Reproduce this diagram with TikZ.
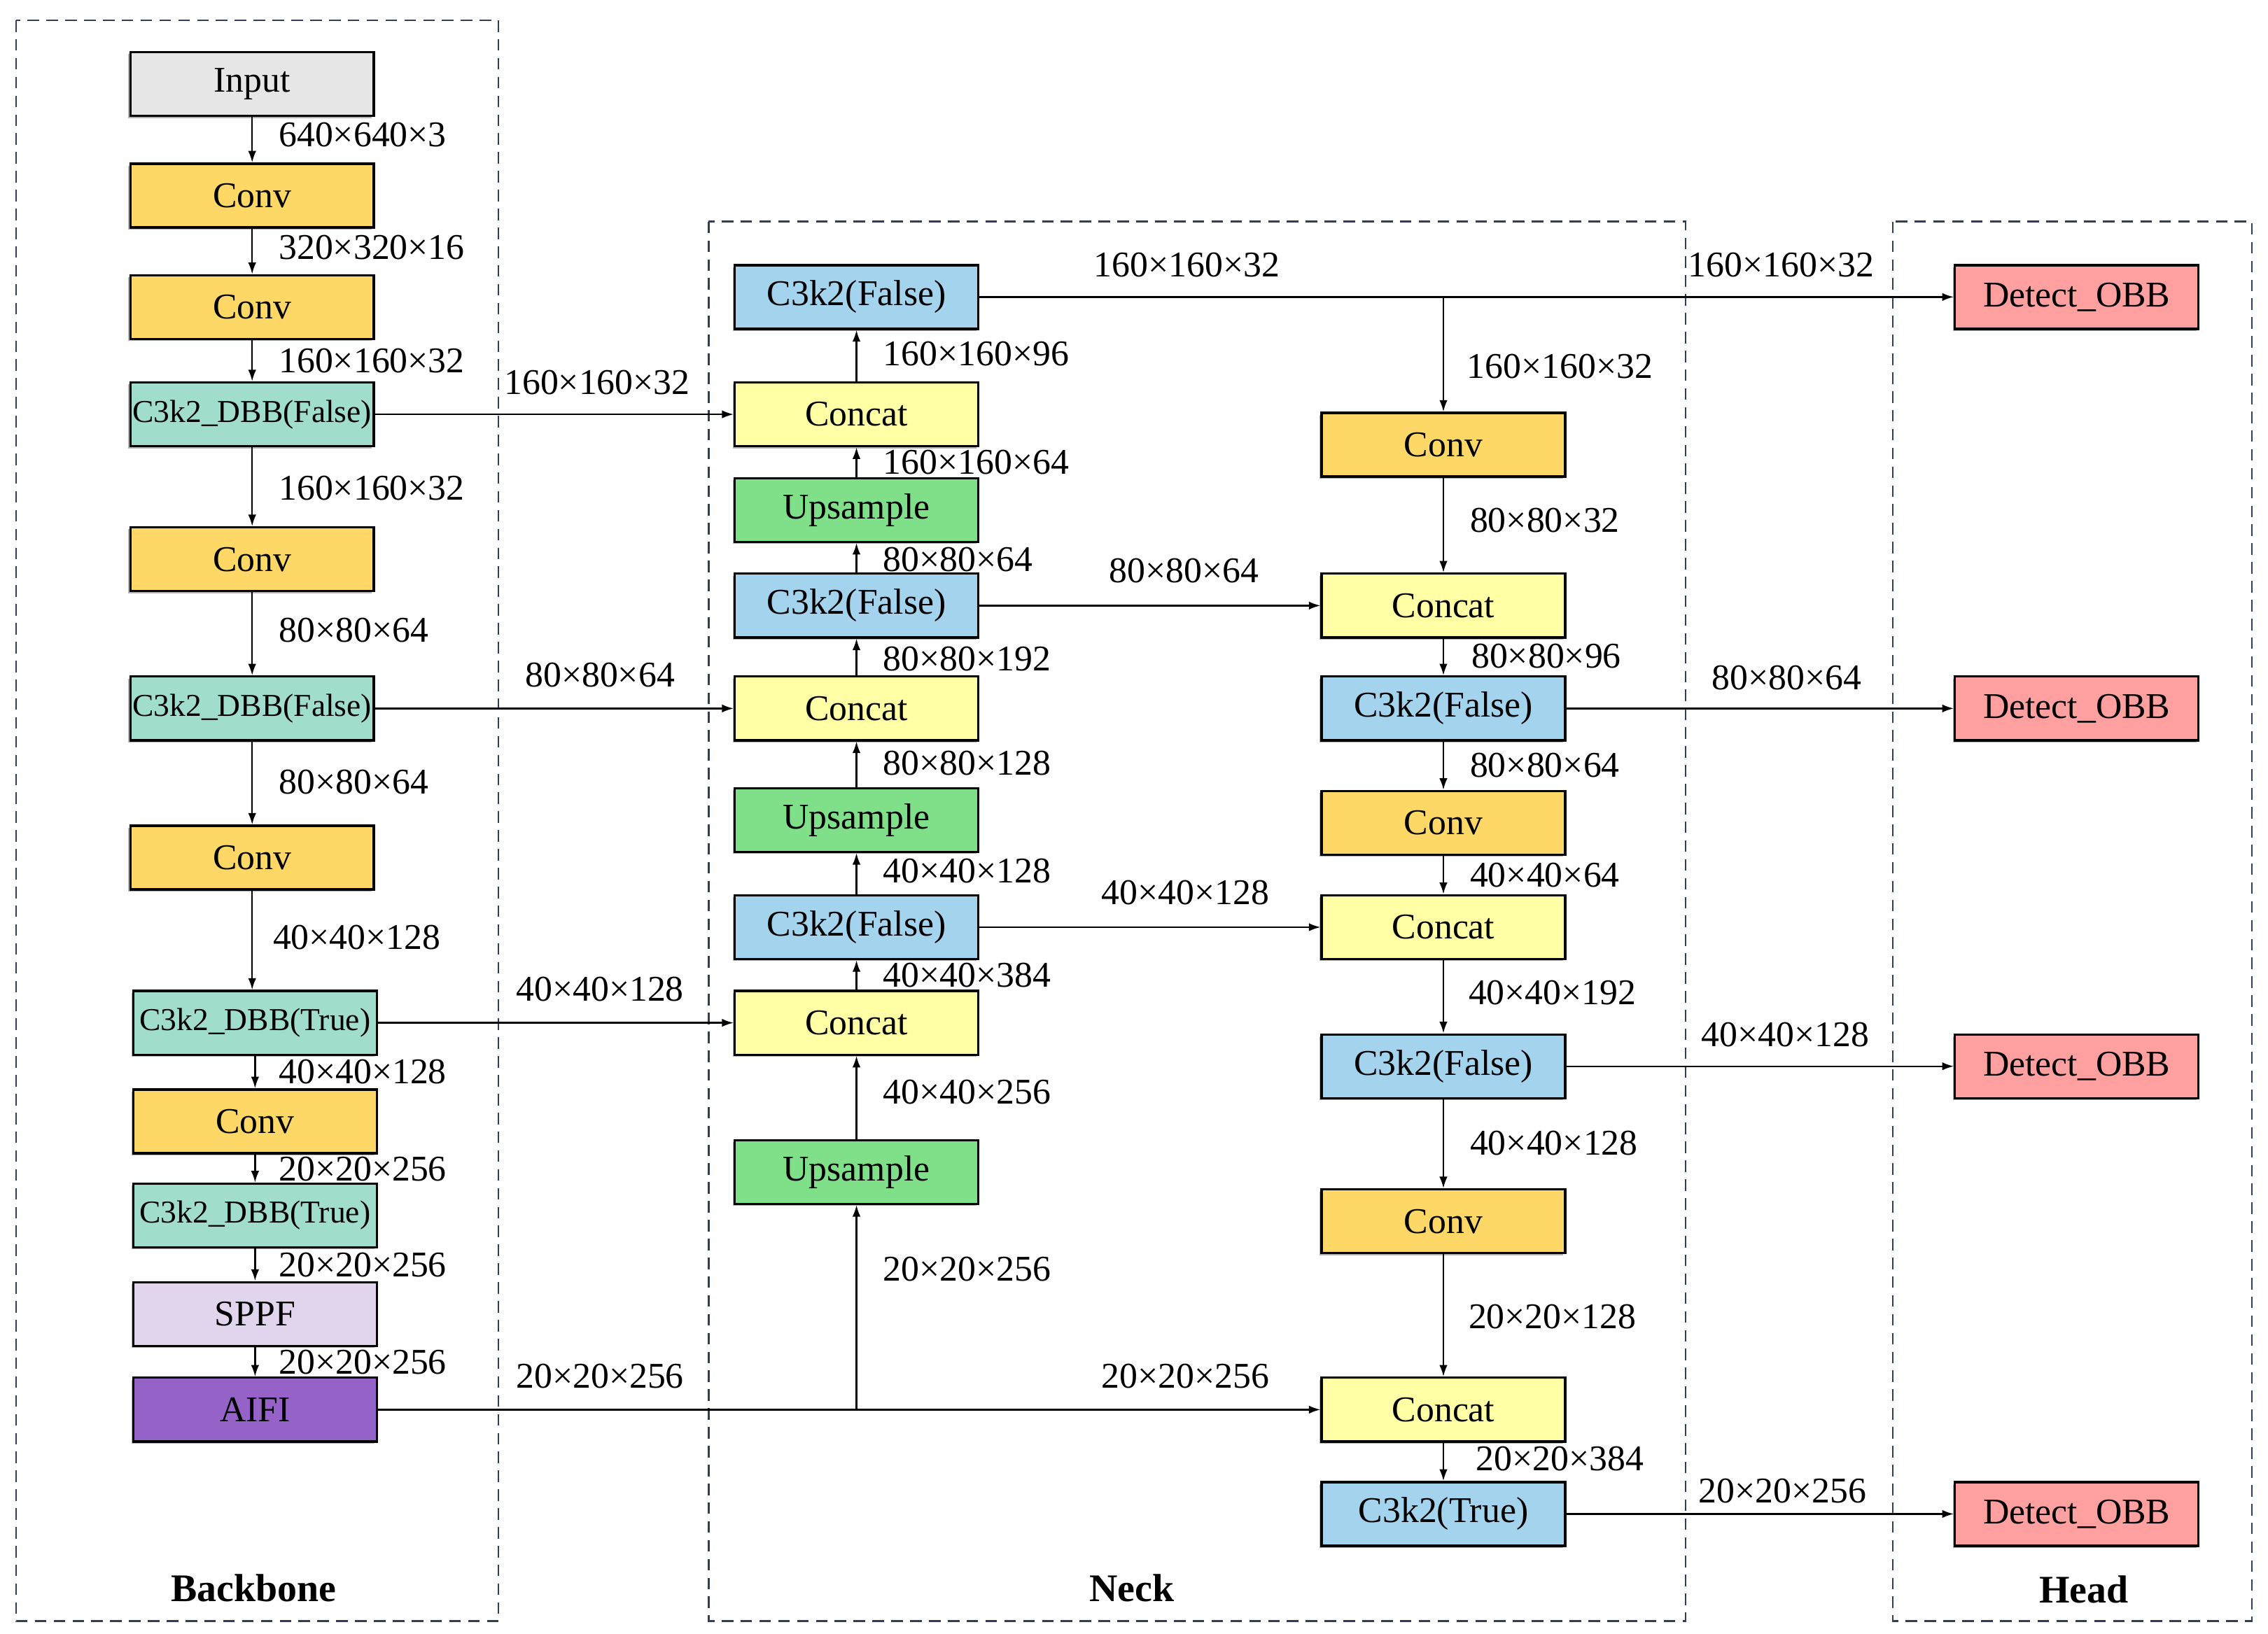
\documentclass[tikz,border=0pt]{standalone}
\usepackage{fontspec}
\setmainfont{Liberation Serif}
\usetikzlibrary{arrows.meta,shadows}
\definecolor{cgray}{HTML}{E6E6E6}
\definecolor{cconv}{HTML}{FDD866}
\definecolor{cteal}{HTML}{A0DDCD}
\definecolor{cblue}{HTML}{A4D3EE}
\definecolor{cyel}{HTML}{FFFFA6}
\definecolor{cgreen}{HTML}{80E08A}
\definecolor{cpink}{HTML}{FFA0A0}
\definecolor{clav}{HTML}{E1D5EE}
\definecolor{cpurp}{HTML}{9563C8}
\definecolor{cframe}{HTML}{2F3F5A}
\begin{document}
\begin{tikzpicture}[x=0.5pt,y=-0.5pt,
  blk/.style={draw=black, line width=0.8pt, minimum width=84pt, minimum height=22pt, inner sep=0pt,
    font=\fontsize{12.5}{14}\selectfont,
    drop shadow={shadow xshift=-0.7pt, shadow yshift=-0.7pt, fill=black!50, opacity=0.6}},
  inp/.style={blk, fill=cgray},
  convb/.style={blk, fill=cconv},
  dbb/.style={blk, fill=cteal, font=\fontsize{11}{13}\selectfont},
  c3/.style={blk, fill=cblue},
  cat/.style={blk, fill=cyel},
  ups/.style={blk, fill=cgreen},
  det/.style={blk, fill=cpink},
  sppfb/.style={blk, fill=clav},
  aifib/.style={blk, fill=cpurp},
  lab/.style={inner sep=0pt, font=\fontsize{12.5}{14}\selectfont},
  labw/.style={lab, anchor=west},
  ttl/.style={inner sep=0pt, font=\fontsize{13.5}{15}\selectfont\bfseries},
  arr/.style={line width=0.55pt, -{Latex[length=4pt,width=2.8pt]}},
  ln/.style={line width=0.55pt},
  frame/.style={draw=cframe, line width=0.6pt, dash pattern=on 4pt off 2.5pt}
]
\useasboundingbox (0,0) rectangle (1565,1127.5);

% frames
\draw[frame] (11,14) rectangle (344,1119);
\draw[frame] (489,153) rectangle (1163,1119);
\draw[frame] (1306,153) rectangle (1554,1119);
\node[ttl] (tb) at (175,1096) {Backbone};
\node[ttl] (tn) at (781,1096) {Neck};
\node[ttl] (th) at (1438,1097) {Head};

% backbone
\node[inp]   (in)  at (174,58)  {Input};
\node[convb] (bc1) at (174,135) {Conv};
\node[convb] (bc2) at (174,212) {Conv};
\node[dbb]   (bd1) at (174,286) {C3k2\_DBB(False)};
\node[convb] (bc3) at (174,386) {Conv};
\node[dbb]   (bd2) at (174,489) {C3k2\_DBB(False)};
\node[convb] (bc4) at (174,592) {Conv};
\node[dbb]   (bd3) at (176,706) {C3k2\_DBB(True)};
\node[convb] (bc5) at (176,774) {Conv};
\node[dbb]   (bd4) at (176,839) {C3k2\_DBB(True)};
\node[sppfb] (sppf) at (176,907) {SPPF};
\node[aifib] (aifi) at (176,973) {AIFI};

\foreach \a/\b in {in/bc1, bc1/bc2, bc2/bd1, bd1/bc3, bc3/bd2, bd2/bc4, bc4/bd3, bd3/bc5, bc5/bd4, bd4/sppf, sppf/aifi}
  \draw[arr] (\a.south) -- (\a.south |- \b.north);

\node[labw] (l1)  at (192,93)  {640×640×3};
\node[labw] (l2)  at (192,171) {320×320×16};
\node[labw] (l3)  at (192,249) {160×160×32};
\node[labw] (l4)  at (192,337) {160×160×32};
\node[labw] (l5)  at (192,435) {80×80×64};
\node[labw] (l6)  at (192,540) {80×80×64};
\node[labw] (l7)  at (188,647) {40×40×128};
\node[labw] (l8)  at (192,740) {40×40×128};
\node[labw] (l9)  at (192,807) {20×20×256};
\node[labw] (l10) at (192,873) {20×20×256};
\node[labw] (l11) at (192,940) {20×20×256};

% neck left column
\node[c3]  (nt)  at (591,205) {C3k2(False)};
\node[cat] (ncA) at (591,286) {Concat};
\node[ups] (nuA) at (591,352) {Upsample};
\node[c3]  (nbB) at (591,418) {C3k2(False)};
\node[cat] (ncB) at (591,489) {Concat};
\node[ups] (nuB) at (591,566) {Upsample};
\node[c3]  (nbC) at (591,640) {C3k2(False)};
\node[cat] (ncC) at (591,706) {Concat};
\node[ups] (nuC) at (591,809) {Upsample};

\foreach \a/\b in {ncA/nt, nuA/ncA, nbB/nuA, ncB/nbB, nuB/ncB, nbC/nuB, ncC/nbC, nuC/ncC}
  \draw[arr] (\a.north) -- (\a.north |- \b.south);

\node[labw] (m1) at (609,244) {160×160×96};
\node[labw] (m2) at (609,319) {160×160×64};
\node[labw] (m3) at (609,386) {80×80×64};
\node[labw] (m4) at (609,455) {80×80×192};
\node[labw] (m5) at (609,527) {80×80×128};
\node[labw] (m6) at (609,601) {40×40×128};
\node[labw] (m7) at (609,673) {40×40×384};
\node[labw] (m8) at (609,754) {40×40×256};
\node[labw] (m9) at (609,876) {20×20×256};

% neck right column
\node[convb] (rv1) at (996,307)  {Conv};
\node[cat]   (rc1) at (996,418)  {Concat};
\node[c3]    (rb1) at (996,489)  {C3k2(False)};
\node[convb] (rv2) at (996,568)  {Conv};
\node[cat]   (rc2) at (996,640)  {Concat};
\node[c3]    (rb2) at (996,736)  {C3k2(False)};
\node[convb] (rv3) at (996,843)  {Conv};
\node[cat]   (rc3) at (996,973)  {Concat};
\node[c3]    (rb3) at (996,1045) {C3k2(True)};

\coordinate (k) at (996,205);
\draw[arr] (k) -- (rv1.north);
\foreach \a/\b in {rv1/rc1, rc1/rb1, rb1/rv2, rv2/rc2, rc2/rb2, rb2/rv3, rv3/rc3, rc3/rb3}
  \draw[arr] (\a.south) -- (\a.south |- \b.north);

\node[labw] (r1) at (1012,253)  {160×160×32};
\node[labw] (r2) at (1014,359)  {80×80×32};
\node[labw] (r3) at (1015,453)  {80×80×96};
\node[labw] (r4) at (1014,528)  {80×80×64};
\node[labw] (r5) at (1014,604)  {40×40×64};
\node[labw] (r6) at (1013,685)  {40×40×192};
\node[labw] (r7) at (1014,789)  {40×40×128};
\node[labw] (r8) at (1013,909)  {20×20×128};
\node[labw] (r9) at (1018,1007) {20×20×384};

% head
\node[det] (d1) at (1433,205)  {Detect\_OBB};
\node[det] (d2) at (1433,489)  {Detect\_OBB};
\node[det] (d3) at (1433,736)  {Detect\_OBB};
\node[det] (d4) at (1433,1045) {Detect\_OBB};

% horizontal connections
\draw[arr] (bd1.east) -- (ncA.west);
\draw[arr] (bd2.east) -- (ncB.west);
\draw[arr] (bd3.east) -- (ncC.west);
\coordinate (j) at (591,973);
\draw[ln] (aifi.east) -- (j);
\draw[arr] (j) -- (rc3.west);
\draw[arr] (j) -- (nuC.south);
\draw[arr] (nt.east) -- (d1.west);
\draw[arr] (nbB.east) -- (rc1.west);
\draw[arr] (nbC.east) -- (rc2.west);
\draw[arr] (rb1.east) -- (d2.west);
\draw[arr] (rb2.east) -- (d3.west);
\draw[arr] (rb3.east) -- (d4.west);

\node[lab] (h1)  at (412,264)  {160×160×32};
\node[lab] (h2)  at (414,466)  {80×80×64};
\node[lab] (h3)  at (414,683)  {40×40×128};
\node[lab] (h4)  at (414,950)  {20×20×256};
\node[lab] (h5)  at (818,950)  {20×20×256};
\node[lab] (h6)  at (819,183)  {160×160×32};
\node[lab] (h7)  at (1229,183) {160×160×32};
\node[lab] (h8)  at (817,394)  {80×80×64};
\node[lab] (h9)  at (818,616)  {40×40×128};
\node[lab] (h10) at (1233,468) {80×80×64};
\node[lab] (h11) at (1232,714) {40×40×128};
\node[lab] (h12) at (1230,1029) {20×20×256};
\end{tikzpicture}
\end{document}
